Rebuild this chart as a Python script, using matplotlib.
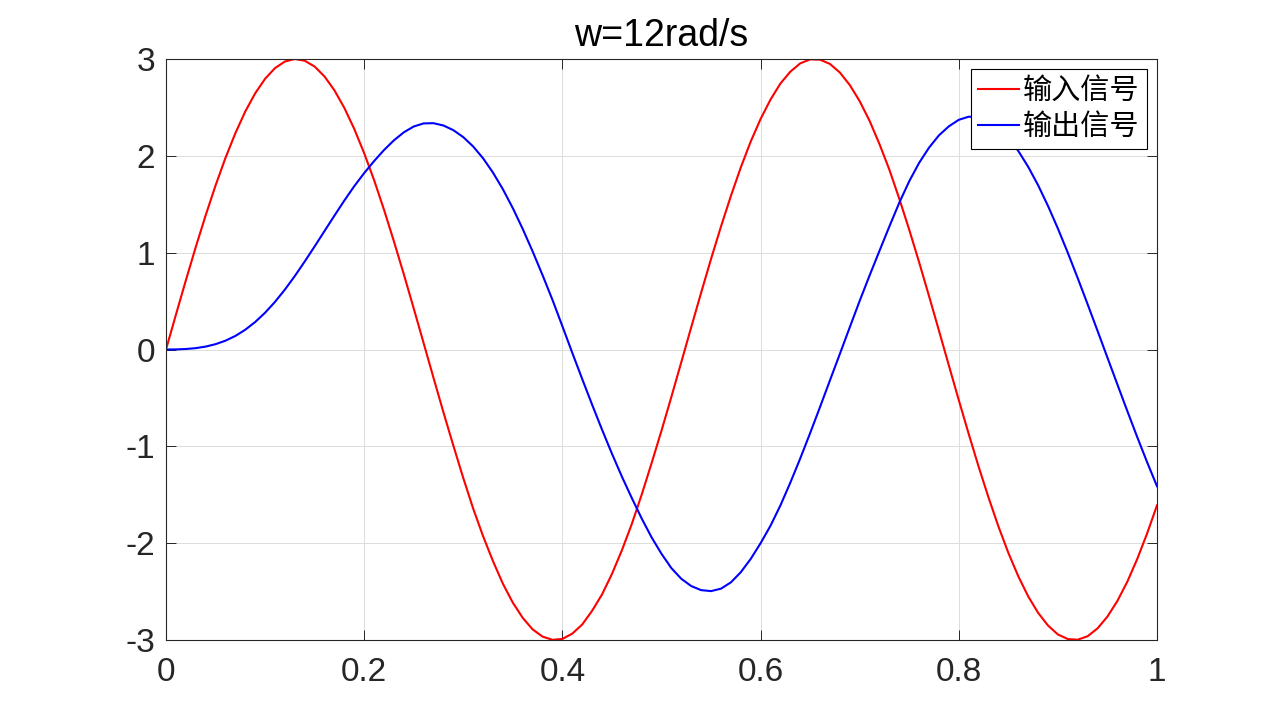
import matplotlib
matplotlib.use("Agg")
import matplotlib.pyplot as plt

# ---- data ----
t = [round(0.01 * k, 2) for k in range(101)]

input_signal = [
    0.000, 0.359, 0.713, 1.057, 1.385, 1.694, 1.978, 2.234, 2.458, 2.646,
    2.796, 2.906, 2.974, 3.000, 2.982, 2.922, 2.819, 2.676, 2.494, 2.277,
    2.026, 1.749, 1.443, 1.116, 0.776, 0.423, 0.065, -0.295, -0.650, -0.994,
    -1.328, -1.644, -1.929, -2.187, -2.420, -2.615, -2.772, -2.891, -2.965, -2.998,
    -2.989, -2.934, -2.840, -2.698, -2.529, -2.318, -2.074, -1.803, -1.499, -1.174,
    -0.838, -0.488, -0.130, 0.230, 0.587, 0.935, 1.269, 1.585, 1.880, 2.147,
    2.381, 2.581, 2.747, 2.869, 2.955, 2.996, 2.993, 2.949, 2.860, 2.731,
    2.564, 2.361, 2.120, 1.855, 1.555, 1.236, 0.900, 0.550, 0.194, -0.166,
    -0.523, -0.872, -1.210, -1.529, -1.828, -2.100, -2.341, -2.549, -2.719, -2.850,
    -2.943, -2.990, -2.997, -2.961, -2.880, -2.758, -2.597, -2.399, -2.165, -1.900,
    -1.610,
]

output_signal = [
    0.000, 0.001, 0.005, 0.014, 0.030, 0.055, 0.091, 0.140, 0.204, 0.284,
    0.380, 0.492, 0.619, 0.759, 0.909, 1.065, 1.224, 1.383, 1.539, 1.687,
    1.822, 1.946, 2.060, 2.160, 2.243, 2.303, 2.335, 2.337, 2.313, 2.265,
    2.193, 2.096, 1.974, 1.826, 1.654, 1.459, 1.244, 1.012, 0.767, 0.512,
    0.240, -0.035, -0.305, -0.570, -0.828, -1.076, -1.312, -1.533, -1.745, -1.940,
    -2.110, -2.258, -2.368, -2.443, -2.485, -2.495, -2.470, -2.405, -2.300, -2.163,
    -2.000, -1.820, -1.610, -1.375, -1.125, -0.863, -0.593, -0.318, -0.045, 0.230,
    0.503, 0.765, 1.020, 1.272, 1.517, 1.738, 1.928, 2.085, 2.212, 2.305,
    2.372, 2.404, 2.400, 2.362, 2.292, 2.184, 2.051, 1.887, 1.697, 1.483,
    1.249, 0.999, 0.737, 0.467, 0.193, -0.084, -0.360, -0.634, -0.903, -1.163,
    -1.412,
]

x_ticks = [0, 0.2, 0.4, 0.6, 0.8, 1]
x_tick_labels = ["0", "0.2", "0.4", "0.6", "0.8", "1"]
y_ticks = [-3, -2, -1, 0, 1, 2, 3]
y_tick_labels = ["-3", "-2", "-1", "0", "1", "2", "3"]
title_text = "w=12rad/s"
legend_labels = ["输入信号", "输出信号"]

# ---- figure ----
fig = plt.figure(figsize=(12.8, 7.2), dpi=100)
ax = fig.add_axes([166 / 1280, 80 / 720, 991 / 1280, 581 / 720])

axis_color = "#262626"
ax.plot(t, input_signal, color=(1, 0, 0), linewidth=1.5, label=legend_labels[0])
ax.plot(t, output_signal, color=(0, 0, 1), linewidth=1.5, label=legend_labels[1])

ax.set_xlim(0, 1)
ax.set_ylim(-3, 3)
ax.set_xticks(x_ticks)
ax.set_xticklabels(x_tick_labels)
ax.set_yticks(y_ticks)
ax.set_yticklabels(y_tick_labels)

for lab in ax.get_xticklabels() + ax.get_yticklabels():
    lab.set_fontfamily("Liberation Sans")
    lab.set_fontsize(24)
    lab.set_color(axis_color)

ax.tick_params(axis="both", which="both", direction="in", length=7, width=0.7,
               color=axis_color, top=True, right=True)
ax.tick_params(axis="x", pad=12)
ax.tick_params(axis="y", pad=8)

for sp in ax.spines.values():
    sp.set_color(axis_color)
    sp.set_linewidth(0.8)

ax.grid(True, color="#dcdcdc", linewidth=0.7)
ax.set_axisbelow(True)

ax.set_title(title_text, fontsize=27, fontfamily="Liberation Sans",
             color="black", pad=9)

leg = ax.legend(loc="upper right", bbox_to_anchor=(1 - 10 / 991, 1 - 10 / 581),
                borderaxespad=0, prop={"family": ["Noto Sans CJK SC", "DejaVu Sans"],
                                       "size": 21, "weight": "light"},
                frameon=True, fancybox=False, edgecolor="black", framealpha=1,
                handlelength=1.4, handletextpad=0.15, borderpad=0.25,
                labelspacing=0.2)
leg.get_frame().set_linewidth(0.8)

fig.savefig("out.png", dpi=100)
